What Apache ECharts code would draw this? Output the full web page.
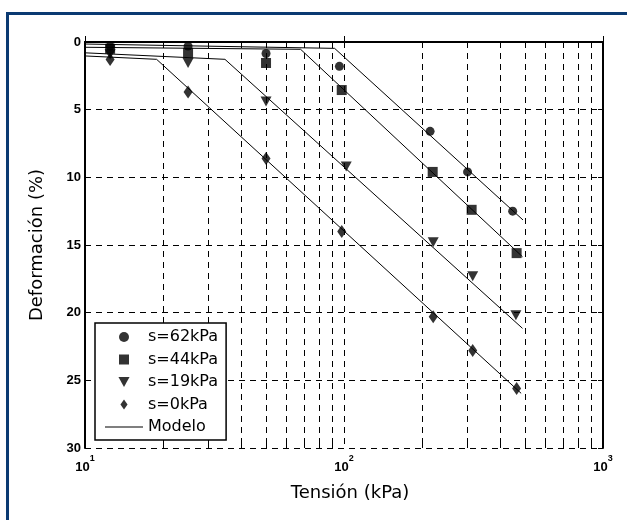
<!DOCTYPE html>
<html><head><meta charset="utf-8">
<script src="https://cdn.jsdelivr.net/npm/echarts@6/dist/echarts.min.js"></script>
<style>html,body{margin:0;padding:0;background:#fff}#c{width:627px;height:520px}</style>
</head><body><div id="c"></div>
<script>
// ---- tick values ----
const xMajorTicks = [10, 100, 1000];
const xMinorTicks = [20, 30, 40, 50, 60, 70, 80, 90, 200, 300, 400, 500, 600, 700, 800, 900];
const yTicks = [0, 5, 10, 15, 20, 25, 30];

// ---- measured data (kPa, %) ----
const s62Stress = [12.5, 25, 50, 96, 215, 300, 448];
const s62Strain = [0.3, 0.3, 0.85, 1.8, 6.6, 9.6, 12.5];
const s44Stress = [12.5, 25, 50, 98, 220, 311, 464];
const s44Strain = [0.5, 0.8, 1.55, 3.55, 9.6, 12.4, 15.6];
const s19Stress = [12.5, 25, 50, 102, 221, 314, 461];
const s19Strain = [0.9, 1.55, 4.4, 9.2, 14.8, 17.3, 20.2];
const s0Stress = [12.5, 25, 50, 98, 221, 314, 464];
const s0Strain = [1.3, 3.7, 8.6, 14.0, 20.3, 22.8, 25.6];

// ---- model curves (bilinear in log stress) ----
const m62Stress = [10, 92, 491];
const m62Strain = [0.15, 0.47, 13.15];
const m44Stress = [10, 68, 489];
const m44Strain = [0.39, 0.54, 15.87];
const m19Stress = [10, 34.7, 489];
const m19Strain = [0.8, 1.28, 21.16];
const m0Stress = [10, 18.9, 483];
const m0Strain = [1.03, 1.28, 25.96];

const seriesNames = ['s=62kPa', 's=44kPa', 's=19kPa', 's=0kPa', 'Modelo'];

const pairs = (xs, ys) => xs.map((x, i) => [x, ys[i]]);
const yMin = yTicks[0], yMax = yTicks[yTicks.length - 1];
const tickLen = 0.4;

const gridData = xMinorTicks.concat([100]).map(v => ({ xAxis: v }));
const tickData = [];
xMinorTicks.forEach(v => {
  tickData.push([{ coord: [v, yMin] }, { coord: [v, yMin + tickLen] }]);
  tickData.push([{ coord: [v, yMax] }, { coord: [v, yMax - tickLen] }]);
});

const black = '#000';
const labelFont = 'Liberation Sans';
const titleFont = 'DejaVu Sans';
const triSym = 'path://M0,0 L10,0 L5,9 Z';
const rectSym = 'path://M0,0 L10,0 L10,10 L0,10 Z';
const diaSym = 'path://M5,0 L10,7 L5,14 L0,7 Z';
const lineIcon = 'path://M0,0 L40,0 L40,1.1 L0,1.1 Z';
const legendIcons = ['circle', rectSym, triSym, diaSym, lineIcon];

const modelSeries = [[m62Stress, m62Strain], [m44Stress, m44Strain], [m19Stress, m19Strain], [m0Stress, m0Strain]]
  .map(([xs, ys]) => ({
    name: 'Modelo', type: 'line', data: pairs(xs, ys), showSymbol: false, symbol: 'none',
    lineStyle: { color: black, width: 1 }, itemStyle: { color: black }, z: 3, silent: true
  }));

const option = {
  animation: false,
  backgroundColor: '#fff',
  graphic: [
    { type: 'rect', shape: { x: 6, y: 12, width: 621, height: 3 }, style: { fill: '#0b3a72' }, z: 100 },
    { type: 'rect', shape: { x: 6, y: 12, width: 3, height: 508 }, style: { fill: '#0b3a72' }, z: 100 }
  ],
  grid: { left: 85, right: 24, top: 42, bottom: 72, containLabel: false },
  legend: {
    data: seriesNames.map((n, i) => ({ name: n, icon: legendIcons[i], itemStyle: { color: black } })),
    orient: 'vertical', left: 95, top: 323, z: 20,
    padding: [6, 8, 5, 10],
    itemWidth: 38, itemHeight: 10, itemGap: 6.5,
    symbolKeepAspect: true,
    backgroundColor: '#fff', borderColor: black, borderWidth: 1.5,
    textStyle: { fontFamily: 'DejaVu Sans', fontSize: 16, color: black },
    selectedMode: false
  },
  xAxis: [
    {
      type: 'log', logBase: 10, min: xMajorTicks[0], max: xMajorTicks[2], position: 'bottom',
      name: 'Tensión (kPa)', nameLocation: 'middle', nameGap: 36,
      nameTextStyle: { fontFamily: titleFont, fontSize: 18, color: black, padding: [0, 0, 0, 12] },
      axisLine: { show: true, lineStyle: { color: black, width: 2 } },
      axisTick: { show: true, inside: true, length: 6, lineStyle: { color: black, width: 1 } },
      axisLabel: {
        margin: 6,
        formatter: v => '{b|10}{s|' + Math.round(Math.log10(v)) + '}',
        rich: {
          b: { fontFamily: labelFont, fontSize: 13, fontWeight: 'bold', color: black, lineHeight: 20, verticalAlign: 'bottom' },
          s: { fontFamily: labelFont, fontSize: 9, fontWeight: 'bold', color: black, lineHeight: 20, verticalAlign: 'top' }
        }
      },
      splitLine: { show: false }
    },
    {
      type: 'log', logBase: 10, min: xMajorTicks[0], max: xMajorTicks[2], position: 'top',
      axisLine: { show: true, lineStyle: { color: black, width: 2 } },
      axisTick: { show: true, inside: true, length: 6, lineStyle: { color: black, width: 1 } },
      axisLabel: { show: false }, splitLine: { show: false }
    }
  ],
  yAxis: [
    {
      type: 'value', inverse: true, min: yMin, max: yMax, interval: 5, position: 'left',
      name: 'Deformación (%)', nameLocation: 'middle', nameGap: 39,
      nameTextStyle: { fontFamily: titleFont, fontSize: 18, color: black },
      axisLine: { show: true, lineStyle: { color: black, width: 2 } },
      axisTick: { show: true, inside: true, length: 5, lineStyle: { color: black, width: 1 } },
      axisLabel: { margin: 4, fontFamily: labelFont, fontSize: 13, fontWeight: 'bold', color: black },
      splitLine: { show: true, lineStyle: { color: black, width: 1, type: [6, 5] } }
    },
    {
      type: 'value', inverse: true, min: yMin, max: yMax, interval: 5, position: 'right',
      axisLine: { show: true, lineStyle: { color: black, width: 2 } },
      axisTick: { show: true, inside: true, length: 5, lineStyle: { color: black, width: 1 } },
      axisLabel: { show: false }, splitLine: { show: false }
    }
  ],
  series: [
    {
      name: 'gridHelper', type: 'line', data: [[10, 0]], showSymbol: false, symbol: 'none',
      lineStyle: { width: 0 }, silent: true, z: 1,
      markLine: {
        silent: true, symbol: ['none', 'none'], label: { show: false },
        lineStyle: { color: black, width: 1, type: [6, 5] },
        emphasis: { disabled: true },
        data: gridData
      }
    },
    {
      name: 'tickHelper', type: 'line', data: [[10, 0]], showSymbol: false, symbol: 'none',
      lineStyle: { width: 0 }, silent: true, z: 2,
      markLine: {
        silent: true, symbol: ['none', 'none'], label: { show: false },
        lineStyle: { color: black, width: 1, type: 'solid' },
        emphasis: { disabled: true },
        data: tickData
      }
    },
    ...modelSeries,
    { name: 's=62kPa', type: 'scatter', symbol: 'circle', symbolSize: 9, data: pairs(s62Stress, s62Strain), itemStyle: { color: black }, z: 5 },
    { name: 's=44kPa', type: 'scatter', symbol: 'rect', symbolSize: 10, data: pairs(s44Stress, s44Strain), itemStyle: { color: black }, z: 5 },
    { name: 's=19kPa', type: 'scatter', symbol: triSym, symbolSize: [11, 10], data: pairs(s19Stress, s19Strain), itemStyle: { color: black }, z: 5 },
    { name: 's=0kPa', type: 'scatter', symbol: 'diamond', symbolSize: [9, 13], data: pairs(s0Stress, s0Strain), itemStyle: { color: black }, z: 5 }
  ]
};
const chart = echarts.init(document.getElementById('c'));
chart.setOption(option);
</script>
</body></html>
